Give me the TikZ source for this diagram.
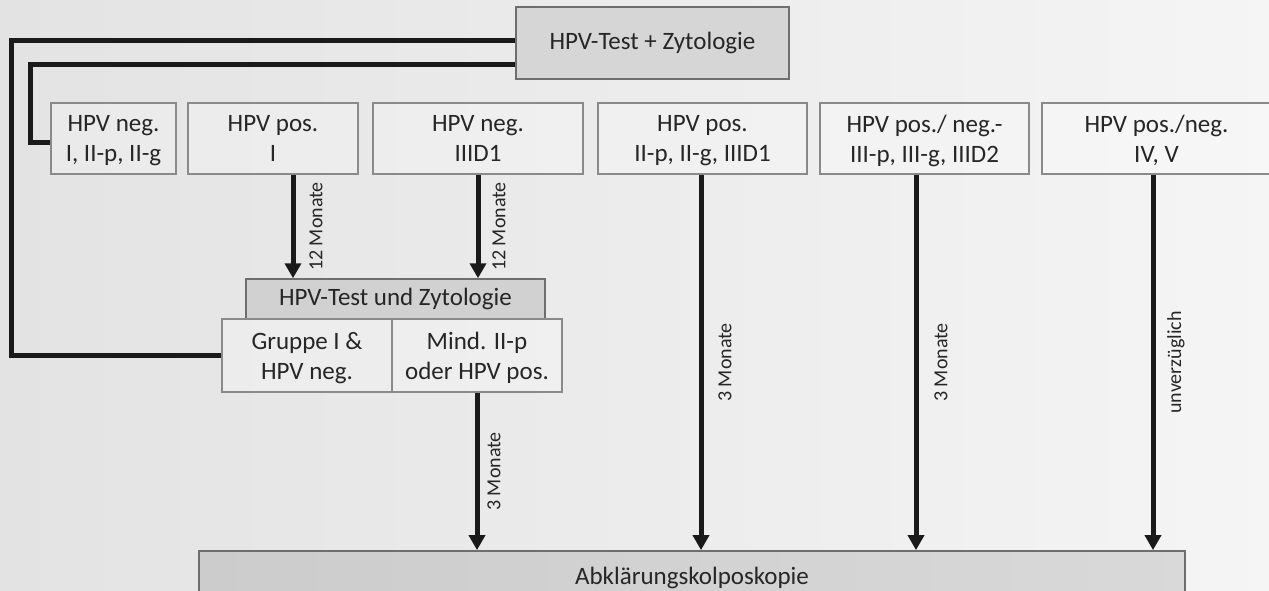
\documentclass[tikz,border=0pt]{standalone}
\usepackage{fontspec}
\setmainfont{Carlito}
\usetikzlibrary{arrows.meta,calc}
\definecolor{ink}{HTML}{262626}
\definecolor{boxline}{HTML}{8A8A8A}
\definecolor{darkline}{HTML}{6E6E6E}
\definecolor{wire}{HTML}{1A1A1A}
\begin{document}
\begin{tikzpicture}[x=1pt,y=-1pt,
  txt/.style={text=ink, inner sep=0pt, align=center, font=\fontsize{25}{30}\selectfont},
  box/.style={txt, draw=boxline, line width=1.5pt, fill=white, fill opacity=0.25, text opacity=1, text depth=0pt},
  greybox/.style={txt, draw=darkline, line width=1.8pt, fill=#1},
  lbl/.style={text=ink, inner sep=0pt, rotate=90, font=\fontsize{20}{23}\selectfont},
  wirepath/.style={draw=wire, line width=5pt},
  arr/.style={wirepath, -{Triangle[length=15pt,width=16pt]}}
]
\useasboundingbox (0,0) rectangle (1269,590);
\clip (0,0) rectangle (1269,590);
% background
\shade[left color=black!11, right color=black!4] (0,0) rectangle (1269,590);

% start
\node[greybox=black!16, minimum width=273pt, minimum height=72pt] (top) at (652.5,43) {HPV-Test + Zytologie};

% result row
\node[box, minimum width=125pt, minimum height=71pt] (b1) at (113.5,138.5) {HPV neg.\\I, II-p, II-g};
\node[box, minimum width=170pt, minimum height=71pt] (b2) at (273,138.5) {HPV pos.\\I};
\node[box, minimum width=210pt, minimum height=71pt] (b3) at (478,138.5) {HPV neg.\\IIID1};
\node[box, minimum width=209pt, minimum height=71pt] (b4) at (702.5,138.5) {HPV pos.\\II-p, II-g, IIID1};
\node[box, minimum width=209pt, minimum height=71pt] (b5) at (924.5,138.5) {HPV pos./ neg.-\\III-p, III-g, IIID2};
\node[box, minimum width=229pt, minimum height=71pt] (b6) at (1156.5,138.5) {HPV pos./neg.\\IV, V};

% repeat test after 12 months
\node[greybox=black!18, line width=1.5pt, minimum width=299pt, minimum height=40pt] (mid) at (395.5,299) {HPV-Test und Zytologie};
\node[box, minimum width=170pt, minimum height=73pt] (g1) at (307,355.5) {Gruppe I \&\\HPV neg.};
\node[box, minimum width=170pt, minimum height=73pt] (g2) at (477,355.5) {Mind. II-p\\oder HPV pos.};

% colposcopy
\shade[left color=black!20, right color=black!15] (199,551) rectangle (1185,610);
\node[txt, draw=darkline, line width=1.8pt, minimum width=986pt, minimum height=59pt] (bot) at (692,580.5) {};
\node[txt] (botlabel) at (692,578) {Abklärungskolposkopie};

% return to routine screening
\draw[wirepath] ([yshift=2.5pt]top.west) -| ([xshift=-210pt]g1.west) -- (g1.west);
\draw[wirepath] ([yshift=-21.5pt]top.west) -| ([xshift=-20pt,yshift=-3.5pt]b1.west) -- ([yshift=-3.5pt]b1.west);

% intervals
\draw[arr] ([xshift=20pt]b2.south) -- coordinate[midway] (m2) ([xshift=20pt]b2.south |- mid.north);
\draw[arr] (b3.south) -- coordinate[midway] (m3) (b3.south |- mid.north);
\draw[arr] (g2.south) -- coordinate[midway] (mg) (g2.south |- bot.north);
\draw[arr] ([xshift=-1.5pt]b4.south) -- coordinate[midway] (m4) ([xshift=-1.5pt]b4.south |- bot.north);
\draw[arr] ([xshift=-8.5pt]b5.south) -- coordinate[midway] (m5) ([xshift=-8.5pt]b5.south |- bot.north);
\draw[arr] ([xshift=-3.5pt]b6.south) -- coordinate[midway] (m6) ([xshift=-3.5pt]b6.south |- bot.north);

\node[lbl] (l2) at ([xshift=23pt]m2) {12 Monate};
\node[lbl] (l3) at ([xshift=21pt]m3) {12 Monate};
\node[lbl] (lg) at ([xshift=17pt]mg) {3 Monate};
\node[lbl] (l4) at ([xshift=24pt]m4) {3 Monate};
\node[lbl] (l5) at ([xshift=25pt]m5) {3 Monate};
\node[lbl] (l6) at ([xshift=23pt]m6) {unverzüglich};
\end{tikzpicture}
\end{document}
